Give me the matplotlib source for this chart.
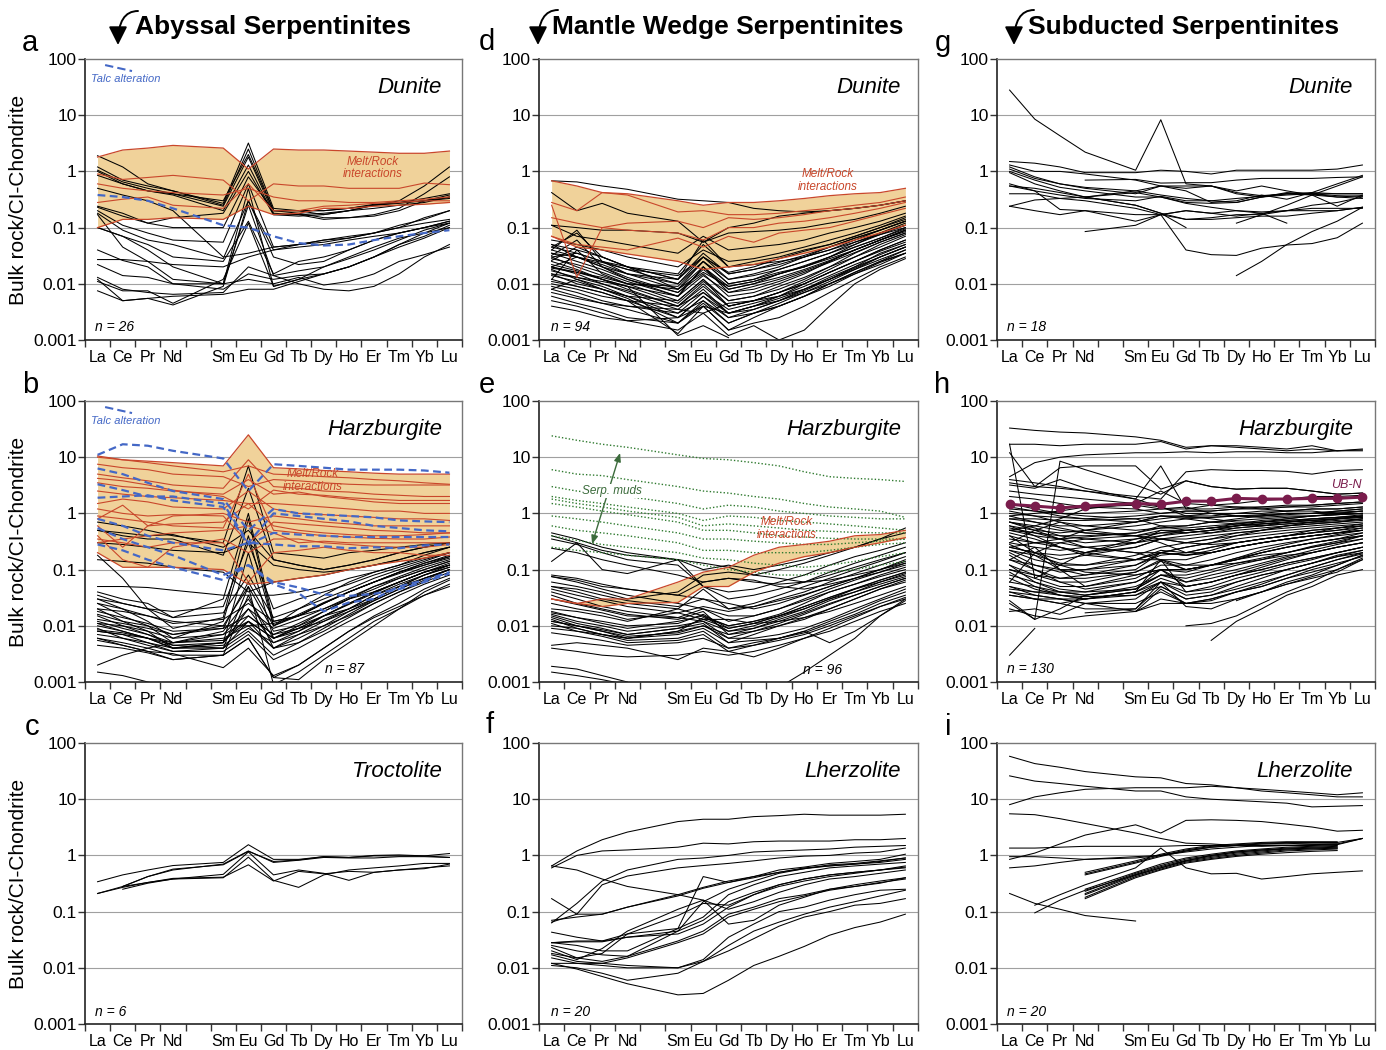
import numpy as np
import matplotlib
matplotlib.use("Agg")
import matplotlib.pyplot as plt
from matplotlib.patches import FancyArrowPatch
from matplotlib.ticker import NullLocator

plt.rcParams['font.family'] = ['Liberation Sans', 'DejaVu Sans']

NA = np.nan

# ───────────────────────── REE order (Pm slot left empty) ─────────────────────────
ree = ['La', 'Ce', 'Pr', 'Nd', 'Sm', 'Eu', 'Gd', 'Tb', 'Dy', 'Ho', 'Er', 'Tm', 'Yb', 'Lu']
ree_x = [0, 1, 2, 3, 5, 6, 7, 8, 9, 10, 11, 12, 13, 14]

# ───────────────────────── a: abyssal dunite ─────────────────────────
a_band_top = [1.8, 2.4, 2.6, 2.9, 2.6, 1.1, 2.5, 2.4, 2.4, 2.3, 2.2, 2.1, 2.1, 2.3]
a_band_bot = [0.1, 0.14, 0.14, 0.15, 0.14, 0.24, 0.17, 0.18, 0.22, 0.22, 0.24, 0.25, 0.26, 0.28]
a_red = [
    [0.9, 0.72, 0.78, 0.85, 0.7, 0.3, 0.6, 0.55, 0.55, 0.5, 0.5, 0.5, 0.62, 0.58],
    [0.6, 0.5, 0.45, 0.42, 0.38, 0.5, 0.35, 0.3, 0.3, 0.28, 0.28, 0.3, 0.32, 0.35],
    [0.28, 0.32, 0.35, 0.25, 0.22, 0.6, 0.2, 0.2, 0.24, 0.25, 0.27, 0.28, 0.3, 0.3],
]
a_blue = [[0.38, 0.35, 0.3, 0.22, 0.11, 0.1, 0.07, 0.053, 0.048, 0.05, 0.06, 0.07, 0.08, 0.09]]
a_black = [
    [1.9, 1.2, 0.6, 0.45, 0.27, 3.2, 0.22, 0.2, 0.17, 0.2, 0.25, 0.3, 0.55, 1.2],
    [1.2, 0.7, 0.55, 0.45, 0.25, 2.5, 0.2, 0.18, 0.15, 0.15, 0.17, 0.22, 0.4, 0.8],
    [1.05, 0.65, 0.5, 0.4, 0.24, 1.8, 0.18, 0.17, 0.18, 0.2, 0.25, 0.28, 0.33, 0.4],
    [0.85, 0.6, 0.45, 0.38, 0.2, 1.3, 0.17, 0.17, 0.14, 0.15, 0.16, 0.2, 0.3, 0.38],
    [1.0, 0.6, 0.45, 0.4, 0.3, 2.0, 0.2, 0.2, 0.2, 0.22, 0.26, 0.28, 0.3, 0.35],
    [0.24, 0.18, 0.12, 0.15, 0.18, 1.0, 0.17, 0.16, 0.17, 0.2, 0.22, 0.25, 0.28, 0.35],
    [0.23, 0.16, 0.12, 0.1, 0.1, 0.8, 0.2, 0.2, 0.2, 0.22, 0.25, 0.27, 0.3, 0.33],
    [0.2, 0.11, 0.08, 0.06, 0.055, 0.6, 0.045, 0.05, 0.06, 0.065, 0.08, 0.1, 0.15, 0.2],
    [0.18, 0.09, 0.06, 0.05, 0.028, 0.3, 0.04, 0.05, 0.055, 0.065, 0.08, 0.11, 0.14, 0.2],
    [0.1, 0.07, 0.05, 0.03, 0.025, 0.13, 0.015, 0.025, 0.03, 0.04, 0.06, 0.08, 0.1, 0.13],
    [0.17, 0.045, 0.025, 0.012, 0.01, 0.25, 0.014, 0.017, 0.02, 0.028, 0.04, 0.06, 0.09, 0.12],
    [0.1, 0.07, 0.04, 0.02, 0.01, 0.5, 0.009, 0.012, 0.02, 0.03, 0.045, 0.065, 0.08, 0.1],
    [0.5, 0.38, 0.3, 0.2, 0.03, 0.035, 0.045, 0.05, 0.06, 0.07, 0.08, 0.1, 0.12, 0.14],
    [0.04, 0.026, 0.02, 0.01, 0.008, 0.015, 0.012, 0.014, 0.015, 0.02, 0.03, 0.05, 0.08, 0.12],
    [0.027, 0.027, 0.025, 0.022, 0.02, 0.03, 0.04, 0.045, 0.05, 0.06, 0.07, 0.08, 0.1, 0.12],
    [0.022, 0.014, 0.013, 0.01, 0.01, 0.012, 0.01, 0.013, 0.0095, 0.011, 0.015, 0.025, 0.033, 0.045],
    [0.013, 0.008, 0.007, 0.0065, 0.007, 0.02, 0.014, 0.01, 0.008, 0.0075, 0.009, 0.015, 0.03, 0.05],
    [0.011, 0.0075, 0.0075, 0.0045, 0.012, 0.12, 0.009, 0.012, 0.015, 0.02, 0.03, 0.045, 0.065, 0.1],
    [0.0075, 0.005, 0.0055, 0.006, 0.0065, 0.008, 0.008, 0.011, 0.015, 0.02, 0.03, 0.05, 0.07, 0.11],
    [0.012, 0.005, 0.0055, 0.0042, 0.009, 0.3, 0.03, 0.022, 0.025, 0.04, 0.06, 0.08, 0.1, 0.13],
]

# ───────────────────────── b: abyssal harzburgite ─────────────────────────
b_band_top = [10.5, 9.0, 8.5, 8.0, 7.0, 25.0, 6.5, 6.2, 5.8, 5.5, 5.2, 5.0, 5.0, 5.0]
b_band_bot = [0.2, 0.11, 0.11, 0.11, 0.1, 0.055, 0.06, 0.07, 0.08, 0.1, 0.12, 0.14, 0.16, 0.2]
b_red = [
    [10.0, 9.0, 8.0, 7.0, 5.5, 7.0, 5.0, 4.8, 4.5, 4.3, 4.0, 3.8, 3.5, 3.3],
    [7.5, 6.5, 6.0, 5.0, 4.5, 3.0, 4.0, 3.8, 3.5, 3.3, 3.2, 3.2, 3.2, 3.2],
    [5.0, 4.3, 3.8, 3.2, 2.8, 9.0, 3.0, 2.8, 2.5, 2.4, 2.2, 2.1, 2.0, 2.0],
    [3.5, 3.0, 2.8, 2.5, 2.2, 4.0, 2.2, 2.4, 2.0, 1.8, 1.6, 1.5, 1.5, 1.5],
    [2.5, 2.2, 2.0, 1.9, 1.7, 1.5, 1.5, 1.4, 1.3, 1.2, 1.1, 1.1, 1.0, 1.0],
    [1.5, 1.8, 1.6, 1.3, 1.2, 2.5, 1.2, 1.0, 0.95, 0.9, 0.85, 0.8, 0.8, 0.75],
    [1.2, 1.0, 0.9, 0.95, 0.9, 0.3, 0.7, 0.65, 0.6, 0.55, 0.5, 0.48, 0.45, 0.45],
    [0.8, 1.4, 0.6, 0.9, 1.0, 0.7, 0.9, 0.8, 0.7, 0.65, 0.6, 0.6, 0.6, 0.6],
    [0.6, 0.25, 0.6, 0.65, 0.7, 1.5, 0.6, 0.5, 0.45, 0.42, 0.4, 0.4, 0.42, 0.45],
    [0.4, 0.15, 0.11, 0.25, 0.35, 0.2, 0.35, 0.35, 0.3, 0.28, 0.26, 0.25, 0.25, 0.28],
    [0.35, 0.3, 0.25, 0.3, 0.3, 0.06, 0.2, 0.22, 0.25, 0.22, 0.2, 0.2, 0.18, 0.18],
    [0.3, 0.35, 0.4, 0.45, 0.5, 0.6, 0.45, 0.3, 0.32, 0.3, 0.3, 0.3, 0.3, 0.3],
    [4.2, 3.8, 3.2, 2.6, 2.0, 1.2, 2.6, 2.2, 2.1, 1.9, 1.8, 1.7, 1.7, 1.7],
    [0.9, 0.8, 0.7, 0.6, 0.55, 5.0, 0.5, 0.45, 0.4, 0.38, 0.36, 0.35, 0.35, 0.38],
]
b_blue = [
    [11.0, 17.0, 16.0, 13.0, 9.5, 2.5, 7.5, 7.0, 6.5, 6.0, 6.0, 6.0, 5.8, 5.3],
    [6.3, 5.0, 3.5, 2.5, 1.8, 0.5, 1.2, 1.0, 0.95, 0.9, 0.85, 0.75, 0.72, 0.7],
    [3.3, 2.6, 2.0, 2.0, 1.5, 0.3, 1.0, 0.9, 0.8, 0.72, 0.6, 0.55, 0.5, 0.48],
    [1.9, 2.0, 2.1, 1.7, 1.3, 0.28, 0.45, 0.42, 0.4, 0.38, 0.38, 0.38, 0.38, 0.38],
    [0.8, 0.6, 0.4, 0.3, 0.22, 0.3, 0.28, 0.26, 0.26, 0.24, 0.25, 0.24, 0.27, 0.28],
    [0.55, 0.35, 0.25, 0.18, 0.08, 0.12, 0.06, 0.048, 0.036, 0.034, 0.037, 0.045, 0.06, 0.085],
    [0.28, 0.22, 0.15, 0.11, 0.065, 0.12, 0.055, 0.038, 0.018, 0.026, 0.03, 0.05, 0.065, 0.09],
]
b_black = [
    [0.7, 0.6, 0.5, 0.4, 0.3, 7.0, 0.2, 0.18, 0.16, 0.2, 0.22, 0.25, 0.28, 0.3],
    [0.5, 0.4, 0.35, 0.35, 0.18, 2.8, 0.15, 0.12, 0.1, 0.12, 0.15, 0.2, 0.25, 0.3],
    [0.5, 0.45, 0.4, 0.42, 0.25, 0.5, 0.15, 0.12, 0.1, 0.12, 0.15, 0.2, 0.25, 0.3],
    [0.3, 0.28, 0.25, 0.22, 0.2, 0.3, 0.12, 0.1, 0.09, 0.1, 0.12, 0.15, 0.2, 0.25],
    [0.15, 0.14, 0.13, 0.11, 0.09, 0.04, 0.06, 0.07, 0.08, 0.1, 0.12, 0.15, 0.2, 0.25],
    [0.18, 0.07, 0.02, 0.009, 0.014, 0.8, 0.01, 0.02, 0.035, 0.06, 0.09, 0.12, 0.18, 0.25],
    [0.05, 0.05, 0.048, 0.043, 0.035, 0.035, 0.035, 0.04, 0.05, 0.07, 0.09, 0.12, 0.16, 0.2],
    [0.035, 0.025, 0.02, 0.014, 0.03, 1.0, 0.012, 0.015, 0.025, 0.04, 0.06, 0.09, 0.13, 0.18],
    [0.03, 0.02, 0.012, 0.006, 0.012, 0.4, 0.01, 0.015, 0.025, 0.04, 0.06, 0.09, 0.13, 0.17],
    [0.025, 0.015, 0.01, 0.005, 0.008, 0.03, 0.006, 0.01, 0.018, 0.03, 0.05, 0.07, 0.1, 0.14],
    [0.02, 0.012, 0.008, 0.004, 0.005, 0.02, 0.005, 0.008, 0.015, 0.025, 0.04, 0.06, 0.09, 0.12],
    [0.015, 0.01, 0.007, 0.0045, 0.004, 0.012, 0.004, 0.006, 0.01, 0.018, 0.03, 0.05, 0.08, 0.11],
    [0.012, 0.009, 0.007, 0.005, 0.006, 0.01, 0.004, 0.005, 0.008, 0.014, 0.025, 0.04, 0.065, 0.1],
    [0.01, 0.008, 0.006, 0.004, 0.004, 0.008, 0.003, 0.005, 0.009, 0.016, 0.028, 0.045, 0.07, 0.1],
    [0.009, 0.006, 0.0045, 0.0035, 0.0035, 0.007, 0.0025, 0.004, 0.007, 0.012, 0.02, 0.035, 0.055, 0.08],
    [0.006, 0.005, 0.004, 0.003, 0.003, 0.006, 0.0012, 0.0011, 0.0025, 0.005, 0.01, 0.02, 0.04, 0.065],
    [0.0055, 0.0045, 0.0035, 0.0032, 0.0018, 0.004, 0.0013, 0.002, 0.004, 0.008, 0.015, 0.025, 0.045, 0.07],
    [0.0015, 0.0013, 0.001, 0.0008, NA, NA, NA, NA, NA, NA, NA, NA, NA, NA],
    [0.002, 0.003, 0.004, 0.005, 0.007, 0.012, 0.006, 0.009, 0.015, 0.025, 0.04, 0.06, 0.09, 0.12],
    [0.016, 0.012, 0.01, 0.007, 0.01, 0.05, 0.008, 0.01, 0.015, 0.02, 0.03, 0.05, 0.07, 0.1],
    [0.04, 0.03, 0.025, 0.014, 0.017, 0.08, 0.014, 0.02, 0.03, 0.045, 0.07, 0.1, 0.14, 0.2],
    [0.011, 0.008, 0.006, 0.004, 0.005, 0.2, 0.006, 0.008, 0.013, 0.02, 0.035, 0.055, 0.08, 0.12],
    [0.008, 0.007, 0.005, 0.0035, 0.004, 0.05, 0.0009, 0.0015, 0.003, 0.006, 0.012, 0.02, 0.035, 0.055],
    [0.0045, 0.004, 0.0033, 0.0025, 0.003, 0.035, 0.004, 0.007, 0.012, 0.02, 0.035, 0.05, 0.08, 0.11],
    [0.013, 0.011, 0.009, 0.007, 0.009, 0.015, 0.007, 0.009, 0.012, 0.018, 0.028, 0.045, 0.07, 0.1],
    [0.02, 0.018, 0.015, 0.011, 0.013, 0.025, 0.012, 0.015, 0.02, 0.03, 0.04, 0.06, 0.09, 0.12],
    [0.007, 0.006, 0.005, 0.004, 0.0045, 0.009, 0.005, 0.007, 0.01, 0.015, 0.025, 0.04, 0.06, 0.09],
    [0.03, 0.025, 0.02, 0.018, 0.022, 0.3, 0.02, 0.03, 0.04, 0.055, 0.08, 0.11, 0.15, 0.2],
    [0.006, 0.0045, 0.0035, 0.0025, 0.003, 0.006, 0.0012, 0.002, 0.004, 0.008, 0.014, 0.022, 0.035, 0.05],
    [0.025, 0.02, 0.015, 0.012, 0.01, 0.01, 0.011, 0.015, 0.025, 0.04, 0.06, 0.09, 0.12, 0.16],
    [0.011, 0.01, 0.008, 0.006, 0.007, 0.02, 0.009, 0.013, 0.02, 0.032, 0.05, 0.075, 0.11, 0.15],
    [0.008, 0.007, 0.006, 0.0045, 0.005, 0.015, 0.007, 0.011, 0.018, 0.03, 0.045, 0.07, 0.1, 0.14],
    [0.018, 0.014, 0.011, 0.008, 0.009, 0.06, 0.01, 0.016, 0.026, 0.04, 0.06, 0.085, 0.12, 0.17],
    [0.0085, 0.0075, 0.006, 0.005, 0.0055, 0.012, 0.006, 0.009, 0.015, 0.024, 0.038, 0.06, 0.09, 0.13],
]

# ───────────────────────── c: abyssal troctolite ─────────────────────────
c_black = [
    [0.34, 0.45, 0.55, 0.66, 0.75, 1.55, 0.85, 0.85, 0.95, 0.92, 1.0, 1.02, 0.98, 1.08],
    [0.21, 0.28, 0.42, 0.55, 0.7, 1.2, 0.75, 0.82, 0.92, 0.9, 0.9, 0.95, 0.95, 0.92],
    [0.21, 0.27, 0.33, 0.38, 0.46, 1.15, 0.45, 0.55, 0.48, 0.36, 0.5, 0.55, 0.6, 0.65],
    [NA, 0.25, 0.32, 0.38, 0.4, 0.93, 0.36, 0.27, 0.45, 0.55, 0.6, 0.65, 0.72, 0.72],
    [NA, 0.28, 0.42, 0.57, 0.68, 1.18, 0.78, 0.83, 0.95, 0.92, 0.98, 0.98, 0.98, 0.92],
    [NA, 0.28, 0.33, 0.39, 0.41, 0.68, 0.35, 0.52, 0.47, 0.52, 0.5, 0.55, 0.58, 0.7],
]

# ───────────────────────── d: mantle wedge dunite ─────────────────────────
d_band_top = [0.68, 0.55, 0.42, 0.4, 0.3, 0.25, 0.28, 0.28, 0.3, 0.33, 0.37, 0.4, 0.42, 0.5]
d_band_bot = [0.07, 0.045, 0.04, 0.034, 0.025, 0.018, 0.02, 0.022, 0.028, 0.035, 0.045, 0.06, 0.08, 0.11]
d_red = [
    [0.28, 0.2, 0.42, 0.38, 0.19, 0.2, 0.17, 0.17, 0.18, 0.2, 0.22, 0.25, 0.28, 0.35],
    [0.25, 0.013, 0.1, 0.12, 0.13, 0.1, 0.15, 0.14, 0.15, 0.17, 0.2, 0.22, 0.25, 0.3],
    [0.15, 0.12, 0.1, 0.09, 0.08, 0.06, 0.1, 0.1, 0.12, 0.13, 0.15, 0.18, 0.22, 0.28],
    [0.07, 0.05, 0.045, 0.04, 0.065, 0.045, 0.07, 0.055, 0.08, 0.09, 0.1, 0.13, 0.17, 0.22],
]
d_black = [
    [0.68, 0.65, 0.55, 0.48, 0.32, 0.3, 0.28, 0.22, 0.2, 0.19, 0.2, 0.22, 0.25, 0.3],
    [0.42, 0.2, 0.27, 0.18, 0.13, 0.055, 0.1, 0.12, 0.16, 0.18, 0.2, 0.22, 0.25, 0.3],
    [0.11, 0.1, 0.09, 0.09, 0.08, 0.055, 0.08, 0.085, 0.09, 0.1, 0.12, 0.14, 0.18, 0.24],
    [0.11, 0.07, 0.06, 0.05, 0.035, 0.07, 0.04, 0.045, 0.05, 0.06, 0.08, 0.1, 0.13, 0.18],
    [0.06, 0.05, 0.04, 0.03, 0.02, 0.04, 0.025, 0.028, 0.035, 0.045, 0.06, 0.08, 0.11, 0.16],
    [0.05, 0.03, 0.02, 0.012, 0.006, 0.02, 0.008, 0.01, 0.015, 0.02, 0.03, 0.05, 0.08, 0.12],
    [0.045, 0.08, 0.03, 0.02, 0.008, 0.025, 0.01, 0.012, 0.018, 0.025, 0.035, 0.055, 0.08, 0.11],
    [0.04, 0.09, 0.025, 0.015, 0.01, 0.03, 0.012, 0.015, 0.02, 0.03, 0.045, 0.065, 0.09, 0.13],
    [0.035, 0.025, 0.018, 0.012, 0.007, 0.015, 0.006, 0.007, 0.01, 0.015, 0.025, 0.04, 0.06, 0.09],
    [0.03, 0.02, 0.014, 0.01, 0.005, 0.012, 0.005, 0.006, 0.008, 0.012, 0.02, 0.035, 0.055, 0.08],
    [0.025, 0.018, 0.012, 0.008, 0.004, 0.01, 0.004, 0.005, 0.007, 0.011, 0.018, 0.03, 0.05, 0.075],
    [0.02, 0.015, 0.01, 0.007, 0.0035, 0.008, 0.003, 0.004, 0.006, 0.01, 0.016, 0.025, 0.04, 0.06],
    [0.018, 0.012, 0.009, 0.006, 0.0025, 0.006, 0.0025, 0.0035, 0.005, 0.008, 0.013, 0.02, 0.035, 0.05],
    [0.015, 0.01, 0.008, 0.0055, 0.002, 0.005, 0.002, 0.003, 0.0045, 0.007, 0.011, 0.018, 0.03, 0.045],
    [0.012, 0.009, 0.007, 0.005, 0.0013, 0.004, 0.0015, 0.0025, 0.004, 0.006, 0.01, 0.016, 0.025, 0.04],
    [0.01, 0.008, 0.006, 0.005, 0.004, 0.007, 0.003, 0.0035, 0.005, 0.0075, 0.012, 0.02, 0.03, 0.045],
    [0.008, 0.006, 0.0045, 0.004, 0.003, 0.005, 0.0025, 0.003, 0.004, 0.006, 0.01, 0.016, 0.025, 0.035],
    [0.006, 0.0045, 0.0035, 0.0025, 0.002, 0.004, 0.0015, 0.002, 0.0025, 0.004, 0.007, 0.012, 0.02, 0.03],
    [0.005, 0.004, 0.003, 0.0022, 0.0015, 0.003, 0.0012, 0.0018, 0.001, 0.0015, 0.004, 0.01, 0.018, 0.028],
    [0.004, 0.0033, 0.0025, 0.0022, 0.0025, 0.004, 0.003, 0.004, 0.005, 0.007, 0.01, 0.015, 0.022, 0.035],
    [0.012, 0.04, 0.015, 0.01, 0.009, 0.025, 0.01, 0.012, 0.016, 0.02, 0.028, 0.04, 0.06, 0.09],
    [0.02, 0.03, 0.02, 0.015, 0.012, 0.06, 0.02, 0.025, 0.03, 0.04, 0.05, 0.07, 0.1, 0.14],
    [0.03, 0.035, 0.025, 0.02, 0.015, 0.05, 0.02, 0.022, 0.025, 0.03, 0.04, 0.055, 0.075, 0.1],
    [0.008, 0.012, 0.008, 0.006, 0.005, 0.012, 0.004, 0.005, 0.007, 0.01, 0.016, 0.025, 0.04, 0.06],
    [0.015, 0.013, 0.011, 0.009, 0.006, 0.02, 0.007, 0.009, 0.012, 0.017, 0.025, 0.04, 0.06, 0.085],
    [0.009, 0.007, 0.005, 0.004, 0.0035, 0.003, 0.0045, 0.005, 0.006, 0.008, 0.012, 0.018, 0.027, 0.04],
    [0.05, 0.04, 0.03, 0.02, 0.012, 0.03, 0.015, 0.018, 0.022, 0.03, 0.04, 0.06, 0.09, 0.13],
    [0.02, 0.016, 0.012, 0.009, 0.0012, 0.0018, 0.0011, NA, NA, NA, NA, NA, NA, NA],
    [0.045, 0.035, 0.025, 0.018, 0.01, 0.025, 0.012, 0.014, 0.018, 0.025, 0.035, 0.05, 0.075, 0.11],
    [0.04, 0.03, 0.022, 0.015, 0.008, 0.02, 0.009, 0.011, 0.015, 0.02, 0.03, 0.045, 0.065, 0.1],
    [0.032, 0.06, 0.02, 0.013, 0.007, 0.018, 0.008, 0.01, 0.013, 0.018, 0.026, 0.04, 0.06, 0.09],
    [0.028, 0.022, 0.016, 0.011, 0.006, 0.014, 0.007, 0.008, 0.011, 0.016, 0.024, 0.036, 0.055, 0.08],
    [0.022, 0.017, 0.012, 0.009, 0.0045, 0.011, 0.005, 0.006, 0.009, 0.013, 0.02, 0.03, 0.045, 0.07],
    [0.017, 0.013, 0.01, 0.0075, 0.004, 0.009, 0.004, 0.005, 0.007, 0.01, 0.016, 0.025, 0.038, 0.055],
    [0.014, 0.011, 0.008, 0.006, 0.003, 0.007, 0.0035, 0.0045, 0.006, 0.009, 0.014, 0.022, 0.033, 0.05],
    [0.011, 0.009, 0.007, 0.005, 0.0025, 0.006, 0.003, 0.004, 0.0055, 0.008, 0.012, 0.019, 0.03, 0.045],
    [0.007, 0.0055, 0.0045, 0.0035, 0.002, 0.0045, 0.002, 0.003, 0.004, 0.006, 0.009, 0.015, 0.024, 0.035],
    [0.026, 0.045, 0.03, 0.02, 0.012, 0.035, 0.015, 0.018, 0.024, 0.032, 0.045, 0.065, 0.09, 0.13],
    [0.035, 0.03, 0.024, 0.018, 0.014, 0.03, 0.016, 0.02, 0.028, 0.038, 0.05, 0.07, 0.1, 0.15],
    [0.019, 0.016, 0.013, 0.01, 0.008, 0.016, 0.009, 0.011, 0.015, 0.021, 0.03, 0.045, 0.065, 0.095],
]

# ───────────────────────── e: mantle wedge harzburgite ─────────────────────────
e_band_top = [0.03, 0.025, 0.03, 0.03, 0.06, 0.09, 0.11, 0.18, 0.25, 0.28, 0.32, 0.4, 0.42, 0.5]
e_band_bot = [0.03, 0.025, 0.022, 0.025, 0.026, 0.05, 0.05, 0.09, 0.13, 0.17, 0.2, 0.25, 0.3, 0.37]
e_muds = [
    [24.0, 20.0, 17.0, 15.0, 11.0, 9.5, 9.0, 8.0, 7.0, 5.5, 4.5, 4.2, 4.0, 3.7],
    [6.0, 5.0, 4.7, 4.0, 3.0, 2.5, 2.3, 2.0, 1.8, 1.5, 1.3, 1.2, 1.1, 0.85],
    [3.0, 2.5, 2.2, 2.0, 1.5, 1.2, 1.4, 1.3, 1.1, 1.0, 0.9, 0.85, 0.8, 0.8],
    [2.0, 1.7, 1.5, 1.3, 1.0, 0.75, 0.9, 0.85, 0.75, 0.7, 0.65, 0.6, 0.55, 0.5],
    [1.8, 1.5, 1.3, 1.1, 0.85, 0.6, 0.65, 0.6, 0.55, 0.5, 0.48, 0.46, 0.45, 0.45],
    [1.5, 1.3, 1.1, 0.95, 0.7, 0.5, 0.5, 0.45, 0.4, 0.38, 0.36, 0.35, 0.35, 0.35],
    [0.9, 0.8, 0.7, 0.6, 0.45, 0.35, 0.35, 0.32, 0.3, 0.28, 0.28, 0.3, 0.32, 0.35],
    [0.6, 0.5, 0.45, 0.4, 0.3, 0.22, 0.22, 0.2, 0.2, 0.2, 0.22, 0.25, 0.28, 0.3],
    [0.4, 0.33, 0.28, 0.25, 0.2, 0.16, 0.15, 0.13, 0.12, 0.11, 0.12, 0.14, 0.17, 0.2],
    [0.25, 0.22, 0.2, 0.18, 0.15, 0.12, 0.1, 0.09, 0.08, 0.08, 0.09, 0.1, 0.12, 0.14],
]
e_black = [
    [0.45, 0.35, 0.25, 0.2, 0.15, 0.1, 0.12, 0.1, 0.12, 0.15, 0.2, 0.25, 0.35, 0.55],
    [0.4, 0.3, 0.22, 0.18, 0.15, 0.13, 0.11, 0.08, 0.1, 0.13, 0.18, 0.25, 0.35, 0.45],
    [0.14, 0.3, 0.1, 0.085, 0.15, 0.05, 0.04, 0.045, 0.06, 0.08, 0.12, 0.17, 0.22, 0.3],
    [0.35, 0.28, 0.2, 0.15, 0.12, 0.05, 0.03, 0.035, 0.045, 0.06, 0.09, 0.13, 0.18, 0.25],
    [0.24, 0.2, 0.15, 0.12, 0.08, 0.06, 0.07, 0.06, 0.055, 0.06, 0.08, 0.11, 0.15, 0.2],
    [0.08, 0.07, 0.055, 0.045, 0.035, 0.03, 0.025, 0.02, 0.025, 0.035, 0.05, 0.07, 0.1, 0.15],
    [0.075, 0.06, 0.045, 0.035, 0.025, 0.02, 0.015, 0.015, 0.02, 0.03, 0.045, 0.065, 0.09, 0.13],
    [0.05, 0.04, 0.03, 0.025, 0.02, 0.015, 0.01, 0.012, 0.016, 0.025, 0.04, 0.055, 0.08, 0.11],
    [0.045, 0.035, 0.028, 0.022, 0.017, 0.013, 0.009, 0.011, 0.015, 0.022, 0.032, 0.045, 0.065, 0.09],
    [0.04, 0.03, 0.022, 0.018, 0.014, 0.012, 0.008, 0.009, 0.012, 0.017, 0.025, 0.035, 0.05, 0.07],
    [0.035, 0.025, 0.02, 0.016, 0.013, 0.018, 0.007, 0.008, 0.01, 0.013, 0.02, 0.03, 0.045, 0.065],
    [0.018, 0.014, 0.011, 0.009, 0.012, 0.015, 0.008, 0.01, 0.014, 0.02, 0.03, 0.04, 0.06, 0.085],
    [0.016, 0.012, 0.01, 0.008, 0.01, 0.012, 0.006, 0.008, 0.011, 0.016, 0.024, 0.035, 0.05, 0.07],
    [0.015, 0.011, 0.009, 0.007, 0.009, 0.011, 0.005, 0.007, 0.01, 0.014, 0.02, 0.03, 0.045, 0.06],
    [0.014, 0.01, 0.008, 0.006, 0.008, 0.01, 0.007, 0.009, 0.013, 0.018, 0.028, 0.04, 0.055, 0.075],
    [0.013, 0.009, 0.007, 0.006, 0.008, 0.014, 0.01, 0.012, 0.015, 0.02, 0.03, 0.045, 0.06, 0.08],
    [0.012, 0.01, 0.008, 0.0065, 0.0075, 0.01, 0.006, 0.006, 0.007, 0.009, 0.013, 0.02, 0.03, 0.045],
    [0.011, 0.008, 0.007, 0.006, 0.007, 0.009, 0.005, 0.0055, 0.006, 0.008, 0.012, 0.018, 0.028, 0.04],
    [0.01, 0.009, 0.007, 0.0055, 0.006, 0.008, 0.004, 0.005, 0.006, 0.0075, 0.011, 0.016, 0.025, 0.035],
    [0.009, 0.008, 0.0065, 0.005, 0.0055, 0.007, 0.0035, 0.0028, 0.004, 0.006, 0.009, 0.014, 0.022, 0.032],
    [0.0075, 0.0065, 0.0055, 0.0045, 0.005, 0.006, 0.004, 0.0045, 0.0055, 0.007, 0.01, 0.015, 0.022, 0.03],
    [0.0045, 0.005, 0.0045, 0.004, 0.0025, 0.004, 0.0035, 0.0045, 0.006, 0.008, 0.005, 0.008, 0.015, 0.028],
    [0.004, 0.0035, 0.003, 0.0028, 0.003, 0.0035, 0.003, 0.0035, 0.0045, 0.006, 0.008, 0.012, 0.018, 0.025],
    [0.0019, 0.0017, 0.0013, 0.001, NA, NA, NA, NA, NA, NA, NA, NA, NA, NA],
    [0.0015, 0.0013, 0.0011, 0.0009, NA, NA, NA, NA, NA, NA, NA, NA, NA, NA],
    [NA, NA, NA, NA, NA, NA, NA, NA, 0.0008, 0.0015, 0.003, 0.006, 0.015, 0.03],
    [0.075, 0.065, 0.05, 0.045, 0.035, 0.06, 0.07, 0.065, 0.05, 0.045, 0.055, 0.07, 0.09, 0.12],
    [0.02, 0.018, 0.015, 0.012, 0.02, 0.045, 0.02, 0.025, 0.035, 0.05, 0.07, 0.1, 0.14, 0.2],
    [0.025, 0.02, 0.017, 0.013, 0.017, 0.022, 0.018, 0.022, 0.03, 0.04, 0.06, 0.085, 0.12, 0.17],
    [0.06, 0.05, 0.04, 0.03, 0.04, 0.08, 0.09, 0.08, 0.07, 0.06, 0.065, 0.08, 0.1, 0.13],
    [0.012, 0.01, 0.0085, 0.007, 0.009, 0.013, 0.013, 0.011, 0.012, 0.014, 0.018, 0.025, 0.035, 0.05],
    [0.05, 0.045, 0.035, 0.028, 0.022, 0.03, 0.02, 0.022, 0.028, 0.036, 0.05, 0.07, 0.1, 0.14],
    [0.03, 0.024, 0.019, 0.015, 0.014, 0.02, 0.012, 0.015, 0.02, 0.028, 0.04, 0.055, 0.075, 0.1],
    [0.017, 0.014, 0.012, 0.01, 0.011, 0.016, 0.009, 0.011, 0.015, 0.022, 0.032, 0.046, 0.065, 0.09],
]

# ───────────────────────── f: mantle wedge lherzolite ─────────────────────────
f_black = [
    [0.65, 1.2, 1.9, 2.6, 4.0, 4.4, 4.4, 4.9, 5.1, 5.4, 5.2, 5.2, 5.2, 5.4],
    [0.6, 1.0, 1.2, 1.25, 1.4, 1.65, 1.6, 1.75, 1.8, 1.8, 1.8, 1.9, 1.9, 2.0],
    [0.063, 0.14, 0.35, 0.55, 0.85, 0.9, 1.0, 1.15, 1.2, 1.25, 1.3, 1.4, 1.45, 1.5],
    [0.065, 0.09, 0.3, 0.43, 0.6, 0.66, 0.72, 0.8, 0.9, 0.97, 1.0, 1.1, 1.15, 1.35],
    [0.65, 0.55, 0.38, 0.28, 0.2, 0.16, 0.06, 0.07, 0.13, 0.18, 0.25, 0.3, 0.35, 0.4],
    [0.17, 0.09, 0.09, 0.12, 0.19, 0.26, 0.33, 0.42, 0.55, 0.62, 0.72, 0.78, 0.85, 1.05],
    [0.043, 0.035, 0.03, 0.035, 0.045, 0.15, 0.25, 0.35, 0.48, 0.58, 0.68, 0.72, 0.8, 0.9],
    [0.028, 0.03, 0.03, 0.04, 0.05, 0.42, 0.33, 0.4, 0.5, 0.6, 0.65, 0.7, 0.75, 0.85],
    [0.028, 0.025, 0.02, 0.02, 0.05, 0.08, 0.2, 0.3, 0.42, 0.5, 0.6, 0.65, 0.7, 0.75],
    [0.025, 0.02, 0.017, 0.016, 0.045, 0.07, 0.15, 0.22, 0.3, 0.38, 0.45, 0.5, 0.55, 0.65],
    [0.023, 0.015, 0.018, 0.04, 0.085, 0.14, 0.13, 0.2, 0.28, 0.35, 0.42, 0.48, 0.55, 0.6],
    [0.02, 0.014, 0.022, 0.045, 0.11, 0.16, 0.11, 0.15, 0.22, 0.3, 0.38, 0.42, 0.48, 0.55],
    [0.018, 0.015, 0.013, 0.016, 0.03, 0.045, 0.09, 0.12, 0.17, 0.2, 0.25, 0.28, 0.32, 0.4],
    [0.017, 0.013, 0.012, 0.015, 0.028, 0.04, 0.08, 0.11, 0.15, 0.19, 0.24, 0.28, 0.33, 0.38],
    [0.015, 0.012, 0.012, 0.011, 0.01, 0.014, 0.035, 0.06, 0.1, 0.12, 0.16, 0.2, 0.24, 0.25],
    [0.012, 0.012, 0.011, 0.01, 0.01, 0.013, 0.025, 0.045, 0.065, 0.09, 0.12, 0.15, 0.19, 0.24],
    [0.012, 0.0095, 0.007, 0.0052, 0.0033, 0.0035, 0.006, 0.011, 0.016, 0.024, 0.038, 0.052, 0.065, 0.09],
    [0.011, 0.01, 0.008, 0.006, 0.008, 0.013, 0.02, 0.033, 0.055, 0.08, 0.1, 0.13, 0.14, 0.17],
    [0.07, 0.08, 0.09, 0.12, 0.2, 0.27, 0.35, 0.42, 0.5, 0.58, 0.65, 0.7, 0.78, 0.9],
    [0.028, 0.029, 0.029, 0.035, 0.04, 0.06, 0.12, 0.2, 0.3, 0.38, 0.45, 0.5, 0.55, 0.62],
]

# ───────────────────────── g: subducted dunite ─────────────────────────
g_black = [
    [28.0, 8.5, 4.3, 2.2, 1.05, 8.3, 0.6, 0.55, 0.42, 0.37, 0.4, 0.4, 0.4, 0.4],
    [1.5, 1.4, 1.2, 0.95, 0.95, 1.05, 1.0, 0.9, 1.05, 1.05, 1.05, 1.05, 1.1, 1.3],
    [1.3, 1.0, 1.0, 0.9, 0.7, 0.55, 0.55, 0.55, 0.4, 0.35, 0.42, 0.4, 0.35, 0.37],
    [1.2, 0.8, 0.6, 0.5, 0.4, 0.55, 0.5, 0.55, 0.45, 0.55, 0.45, 0.38, 0.24, 0.38],
    [1.0, 0.7, 0.52, 0.45, 0.35, 0.35, 0.27, 0.23, 0.2, 0.19, 0.2, 0.2, 0.2, 0.23],
    [0.95, 0.6, 0.45, 0.35, 0.25, 0.18, 0.14, 0.14, 0.15, 0.16, 0.16, 0.18, 0.2, 0.23],
    [0.55, 0.45, 0.21, 0.2, 0.17, 0.17, 0.2, 0.18, 0.16, 0.18, 0.2, 0.25, 0.28, 0.35],
    [0.4, 0.4, 0.33, 0.3, 0.22, 0.17, 0.04, 0.033, 0.032, 0.043, 0.049, 0.052, 0.066, 0.12],
    [0.24, 0.31, 0.33, 0.35, 0.45, 0.55, 0.45, 0.28, 0.3, 0.38, 0.32, 0.42, 0.6, 0.85],
    [0.24, 0.2, 0.17, 0.2, 0.13, 0.17, 0.14, 0.15, 0.17, 0.17, 0.2, 0.22, 0.22, 0.22],
    [NA, NA, NA, 0.085, 0.11, 0.17, 0.2, 0.18, 0.2, 0.18, 0.12, NA, NA, NA],
    [NA, NA, NA, 0.7, 0.72, 0.62, 0.63, 0.63, 0.7, 0.75, 0.75, 0.75, 0.78, 0.8],
    [NA, NA, NA, 0.35, 0.42, 0.35, 0.28, 0.27, 0.28, 0.35, 0.38, 0.4, 0.37, 0.36],
    [NA, NA, NA, NA, NA, NA, NA, NA, 0.014, 0.025, 0.05, 0.085, 0.13, 0.23],
    [NA, NA, NA, NA, NA, NA, NA, NA, 0.12, 0.17, 0.25, 0.38, 0.55, 0.8],
    [0.55, 0.5, 0.42, 0.35, 0.25, 0.18, 0.1, NA, NA, NA, NA, NA, NA, NA],
    [1.1, 0.75, 0.6, 0.52, 0.45, 0.38, 0.33, 0.3, 0.28, 0.35, 0.4, 0.42, 0.4, 0.4],
    [0.6, 0.45, 0.38, 0.33, 0.3, 0.36, 0.3, 0.3, 0.33, 0.36, 0.4, 0.38, 0.35, 0.33],
]

# ───────────────────────── h: subducted harzburgite ─────────────────────────
h_ubn = [1.45, 1.35, 1.25, 1.35, 1.5, 1.45, 1.65, 1.65, 1.85, 1.8, 1.8, 1.85, 1.85, 1.95]
h_black = [
    [33.0, 30.0, 28.0, 27.0, 23.0, 20.0, 15.0, 16.0, 15.0, 14.0, 13.0, 14.0, 13.0, 13.0],
    [17.0, 17.0, 16.0, 17.0, 17.0, 19.0, 14.0, 16.0, 16.0, 15.0, 14.0, 16.0, 13.0, 14.0],
    [4.5, 8.0, 10.0, 11.0, 12.0, 12.0, 12.5, 12.0, 12.5, 12.5, 12.0, 12.0, 13.0, 13.5],
    [3.2, 2.8, 4.0, 2.8, 1.8, 7.0, 1.2, 1.4, 1.5, 1.7, 1.8, 2.0, 2.0, 2.1],
    [12.0, 3.0, 6.5, 7.0, 7.0, 2.7, 3.8, 3.0, 2.7, 2.8, 2.8, 2.5, 2.2, 2.3],
    [0.025, 0.013, 8.5, 6.0, 3.2, 2.2, 3.8, 3.0, 2.7, 2.8, 2.8, 2.5, 2.2, 2.3],
    [0.003, 0.009, NA, NA, NA, NA, NA, NA, NA, NA, NA, NA, NA, NA],
    [17.0, 0.07, 0.12, 0.2, 0.35, 0.4, 0.5, 0.55, 0.6, 0.65, 0.7, 0.75, 0.8, 0.85],
    [4.0, 3.5, 3.0, 2.5, 2.0, 1.8, 5.5, 6.0, 5.8, 5.8, 5.6, 5.0, 5.8, 6.0],
    [1.2, 1.1, 1.0, 1.0, 1.1, 1.2, 1.2, 1.2, 1.3, 1.3, 1.4, 1.4, 1.5, 1.6],
    [1.0, 0.9, 0.85, 0.8, 0.9, 1.0, 1.1, 1.1, 1.2, 1.2, 1.3, 1.3, 1.4, 1.5],
    [0.8, 0.7, 0.6, 0.6, 0.7, 0.8, 0.9, 1.0, 1.0, 1.1, 1.1, 1.2, 1.2, 1.3],
    [0.6, 0.5, 0.45, 0.5, 0.6, 0.7, 0.8, 0.85, 0.9, 0.9, 1.0, 1.0, 1.1, 1.2],
    [0.5, 0.4, 0.35, 0.38, 0.45, 0.6, 0.6, 0.7, 0.75, 0.8, 0.85, 0.9, 0.95, 1.0],
    [0.4, 0.3, 0.3, 0.35, 0.4, 0.5, 0.5, 0.55, 0.6, 0.65, 0.7, 0.75, 0.8, 0.85],
    [0.3, 0.25, 0.22, 0.25, 0.3, 0.4, 0.45, 0.5, 0.55, 0.6, 0.65, 0.7, 0.75, 0.8],
    [0.25, 0.2, 0.15, 0.18, 0.25, 0.35, 0.35, 0.4, 0.45, 0.5, 0.55, 0.6, 0.65, 0.7],
    [0.22, 0.15, 0.12, 0.12, 0.18, 0.25, 0.3, 0.35, 0.4, 0.45, 0.5, 0.55, 0.6, 0.65],
    [0.2, 0.12, 0.09, 0.1, 0.15, 0.2, 0.25, 0.3, 0.35, 0.4, 0.45, 0.5, 0.55, 0.6],
    [0.15, 0.1, 0.07, 0.08, 0.12, 0.18, 0.2, 0.25, 0.3, 0.35, 0.4, 0.45, 0.5, 0.55],
    [0.12, 0.08, 0.06, 0.06, 0.09, 0.15, 0.15, 0.2, 0.25, 0.3, 0.35, 0.4, 0.45, 0.5],
    [0.1, 0.07, 0.05, 0.05, 0.07, 0.12, 0.12, 0.15, 0.2, 0.25, 0.3, 0.35, 0.4, 0.45],
    [0.08, 0.06, 0.045, 0.04, 0.06, 0.1, 0.1, 0.12, 0.16, 0.2, 0.25, 0.3, 0.35, 0.4],
    [0.06, 0.05, 0.04, 0.035, 0.05, 0.08, 0.08, 0.1, 0.13, 0.16, 0.2, 0.25, 0.3, 0.35],
    [0.05, 0.04, 0.035, 0.03, 0.04, 0.07, 0.05, 0.06, 0.08, 0.1, 0.13, 0.16, 0.2, 0.25],
    [0.04, 0.035, 0.03, 0.025, 0.03, 0.06, 0.04, 0.045, 0.06, 0.08, 0.1, 0.13, 0.17, 0.22],
    [0.035, 0.03, 0.025, 0.02, 0.02, 0.05, 0.03, 0.035, 0.045, 0.06, 0.08, 0.11, 0.15, 0.2],
    [0.02, 0.015, 0.013, 0.015, 0.018, 0.025, 0.025, 0.025, 0.03, 0.04, 0.06, 0.08, 0.12, 0.18],
    [NA, NA, NA, NA, NA, NA, 0.01, 0.011, 0.015, 0.025, 0.04, 0.06, 0.1, 0.16],
    [NA, NA, NA, NA, NA, NA, NA, 0.0055, 0.012, 0.02, 0.035, 0.05, 0.08, 0.1],
    [NA, NA, NA, NA, NA, NA, NA, NA, 0.028, 0.04, 0.055, 0.07, 0.09, 0.15],
    [0.7, 0.6, 0.8, 1.2, 1.5, 2.5, 1.5, 1.4, 1.3, 1.2, 1.1, 1.1, 1.0, 1.0],
    [2.5, 2.2, 2.0, 1.8, 1.5, 1.3, 1.0, 1.0, 0.9, 0.85, 0.9, 0.9, 0.95, 1.0],
    [3.5, 3.0, 2.8, 2.5, 1.8, 1.3, 0.9, 0.8, 0.7, 0.7, 0.75, 0.8, 0.85, 0.9],
    [0.3, 0.5, 0.7, 0.5, 0.4, 0.3, 0.2, 0.2, 0.25, 0.3, 0.35, 0.4, 0.45, 0.5],
    [0.06, 0.2, 0.3, 0.25, 0.2, 0.15, 0.1, 0.12, 0.15, 0.18, 0.2, 0.25, 0.3, 0.4],
    [0.9, 1.0, 1.1, 1.3, 1.4, 1.2, 1.3, 1.0, 0.9, 0.9, 0.95, 1.0, 1.0, 1.1],
    [0.5, 0.6, 0.5, 0.45, 0.4, 0.35, 0.3, 0.28, 0.3, 0.35, 0.4, 0.45, 0.5, 0.6],
    [0.25, 0.3, 0.35, 0.5, 0.7, 0.9, 0.8, 0.7, 0.65, 0.6, 0.65, 0.7, 0.7, 0.75],
    [0.04, 0.03, 0.025, 0.03, 0.04, 0.15, 0.04, 0.05, 0.07, 0.09, 0.12, 0.15, 0.2, 0.25],
    [0.15, 0.25, 0.1, 0.05, 0.08, 0.1, 0.06, 0.08, 0.1, 0.13, 0.17, 0.22, 0.28, 0.35],
    [0.7, 0.5, 0.35, 0.25, 0.2, 0.2, 0.25, 0.3, 0.4, 0.5, 0.6, 0.7, 0.8, 0.9],
    [1.5, 1.2, 1.0, 0.9, 0.8, 0.6, 0.5, 0.45, 0.5, 0.55, 0.6, 0.65, 0.7, 0.8],
    [0.45, 0.35, 0.25, 0.2, 0.15, 0.15, 0.12, 0.12, 0.13, 0.15, 0.18, 0.2, 0.25, 0.3],
    [0.028, 0.013, 0.02, 0.035, 0.045, 0.1, 0.05, 0.06, 0.08, 0.1, 0.13, 0.16, 0.2, 0.25],
    [0.018, 0.02, 0.016, 0.025, 0.018, 0.03, 0.025, 0.03, 0.04, 0.05, 0.07, 0.09, 0.12, 0.18],
    [1.1, 0.9, 0.7, 0.6, 0.5, 0.55, 0.6, 0.7, 0.8, 0.9, 1.0, 1.0, 1.1, 1.2],
    [0.9, 0.7, 0.55, 0.45, 0.4, 0.45, 0.5, 0.55, 0.65, 0.75, 0.8, 0.9, 0.95, 1.0],
    [0.7, 0.55, 0.4, 0.35, 0.3, 0.35, 0.4, 0.45, 0.55, 0.6, 0.7, 0.75, 0.8, 0.9],
    [0.55, 0.45, 0.35, 0.3, 0.35, 0.45, 0.45, 0.5, 0.6, 0.65, 0.7, 0.8, 0.85, 0.95],
    [0.35, 0.3, 0.25, 0.2, 0.25, 0.35, 0.3, 0.35, 0.45, 0.5, 0.6, 0.65, 0.7, 0.8],
    [0.28, 0.18, 0.1, 0.08, 0.1, 0.2, 0.18, 0.22, 0.3, 0.35, 0.4, 0.5, 0.55, 0.65],
    [0.18, 0.1, 0.06, 0.045, 0.06, 0.1, 0.09, 0.12, 0.16, 0.22, 0.28, 0.35, 0.42, 0.5],
    [0.12, 0.06, 0.04, 0.035, 0.045, 0.08, 0.07, 0.09, 0.12, 0.15, 0.2, 0.26, 0.32, 0.4],
    [0.09, 0.05, 0.035, 0.03, 0.04, 0.06, 0.05, 0.06, 0.08, 0.11, 0.15, 0.2, 0.25, 0.3],
    [0.07, 0.045, 0.035, 0.033, 0.035, 0.05, 0.03, 0.035, 0.05, 0.07, 0.1, 0.13, 0.18, 0.22],
    [0.05, 0.035, 0.03, 0.025, 0.025, 0.04, 0.025, 0.028, 0.04, 0.055, 0.08, 0.11, 0.15, 0.19],
    [0.045, 0.04, 0.04, 0.04, 0.045, 0.08, 0.06, 0.07, 0.09, 0.12, 0.16, 0.2, 0.25, 0.3],
    [0.25, 0.2, 0.18, 0.2, 0.3, 0.5, 0.45, 0.5, 0.6, 0.7, 0.8, 0.9, 1.0, 1.1],
    [0.22, 0.18, 0.13, 0.12, 0.15, 0.22, 0.2, 0.25, 0.3, 0.35, 0.4, 0.45, 0.55, 0.6],
    [0.6, 0.4, 0.25, 0.18, 0.15, 0.2, 0.18, 0.2, 0.25, 0.3, 0.35, 0.4, 0.45, 0.55],
    [0.4, 0.2, 0.12, 0.09, 0.08, 0.1, 0.1, 0.12, 0.15, 0.2, 0.25, 0.3, 0.35, 0.45],
    [1.3, 1.1, 0.9, 0.8, 0.7, 0.9, 0.9, 0.9, 1.0, 1.0, 1.1, 1.2, 1.2, 1.3],
    [0.8, 0.8, 0.75, 0.75, 0.8, 0.9, 0.85, 0.85, 0.9, 0.95, 1.0, 1.0, 1.05, 1.1],
    [0.5, 0.45, 0.4, 0.4, 0.45, 0.55, 0.55, 0.6, 0.65, 0.7, 0.75, 0.8, 0.85, 0.9],
    [0.15, 0.12, 0.1, 0.1, 0.12, 0.2, 0.18, 0.2, 0.25, 0.3, 0.35, 0.4, 0.45, 0.5],
    [0.1, 0.08, 0.07, 0.07, 0.09, 0.14, 0.1, 0.12, 0.15, 0.2, 0.25, 0.3, 0.35, 0.4],
    [0.035, 0.03, 0.03, 0.03, 0.035, 0.06, 0.035, 0.04, 0.06, 0.08, 0.1, 0.13, 0.17, 0.2],
    [NA, NA, NA, NA, 0.018, 0.045, 0.025, 0.03, 0.04, 0.05, 0.07, 0.1, 0.13, 0.17],
    [NA, NA, NA, 0.017, 0.02, 0.06, 0.022, 0.02, 0.03, 0.04, 0.055, 0.075, 0.1, 0.15],
    [2.0, 1.8, 1.5, 1.3, 1.2, 1.0, 1.1, 1.1, 1.2, 1.3, 1.3, 1.4, 1.5, 1.6],
]

# ───────────────────────── i: subducted lherzolite ─────────────────────────
i_black = [
    [58.0, 43.0, 37.0, 31.0, 25.0, 24.0, 19.0, 18.0, 16.0, 15.0, 14.0, 13.0, 12.0, 13.0],
    [26.0, 21.0, 19.0, 17.0, 14.0, 14.0, 11.0, 10.0, 9.5, 9.0, 8.5, 7.3, 7.5, 7.7],
    [8.0, 11.0, 13.0, 15.0, 16.0, 16.0, 16.0, 17.0, 16.0, 14.0, 13.0, 12.0, 11.0, 11.0],
    [5.5, 5.3, 4.5, 3.7, 2.5, 2.0, 1.65, 1.6, 1.5, 1.45, 1.5, 1.5, 1.55, 2.0],
    [0.85, 1.1, 1.6, 2.3, 3.5, 2.5, 4.2, 4.3, 4.2, 4.0, 3.6, 3.2, 2.7, 2.8],
    [1.35, 1.35, 1.4, 1.45, 1.45, 1.45, 1.5, 1.5, 1.5, 1.5, 1.5, 1.55, 1.6, 2.0],
    [0.95, 0.95, 0.9, 0.85, 0.95, 1.0, 1.2, 1.4, 1.5, 1.6, 1.6, 1.7, 1.7, 2.0],
    [0.6, 0.65, 0.75, 0.85, 0.9, 1.0, 1.15, 1.3, 1.4, 1.5, 1.5, 1.55, 1.55, NA],
    [0.21, 0.14, 0.11, 0.085, 0.068, NA, NA, NA, NA, NA, NA, NA, NA, NA],
    [NA, 0.13, 0.2, 0.3, 0.6, 1.35, 0.6, 0.47, 0.48, 0.38, 0.42, 0.47, 0.5, 0.53],
    [NA, 0.095, 0.16, 0.24, 0.45, 0.6, 0.8, 1.0, 1.15, 1.25, 1.3, 1.35, 1.35, NA],
    [NA, NA, NA, 0.5, 0.8, 1.05, 1.3, 1.5, 1.6, 1.7, 1.75, 1.75, 1.75, NA],
    [NA, NA, NA, 0.47, 0.76, 1.0, 1.25, 1.45, 1.55, 1.65, 1.7, 1.7, 1.7, NA],
    [NA, NA, NA, 0.45, 0.73, 0.96, 1.2, 1.4, 1.5, 1.6, 1.65, 1.65, 1.65, NA],
    [NA, NA, NA, 0.25, 0.5, 0.7, 0.9, 1.05, 1.2, 1.3, 1.4, 1.45, 1.5, NA],
    [NA, NA, NA, 0.23, 0.48, 0.66, 0.86, 1.0, 1.15, 1.25, 1.35, 1.4, 1.45, NA],
    [NA, NA, NA, 0.21, 0.46, 0.63, 0.82, 0.96, 1.1, 1.2, 1.3, 1.35, 1.4, NA],
    [NA, NA, NA, 0.2, 0.44, 0.6, 0.79, 0.92, 1.05, 1.15, 1.25, 1.3, 1.35, NA],
    [NA, NA, NA, 0.18, 0.42, 0.57, 0.76, 0.88, 1.0, 1.1, 1.2, 1.25, 1.3, NA],
    [NA, NA, NA, 0.17, 0.4, 0.55, 0.73, 0.85, 0.96, 1.05, 1.12, 1.18, 1.22, NA],
]

panel_counts = {'a': 26, 'b': 87, 'c': 6, 'd': 94, 'e': 96, 'f': 20, 'g': 18, 'h': 130, 'i': 20}

# ───────────────────────── colours ─────────────────────────
BAND = '#F0D29A'
RED = '#C9472B'
BLUE = '#4468C6'
GREEN = '#2F7A2F'
PURPLE = '#7A1C4C'
GRID = '#A0A0A0'

W, H = 1386, 1050
fig = plt.figure(figsize=(W / 100, H / 100), dpi=100)


def px_box(left, top, right, bottom):
    return [left / W, 1 - bottom / H, (right - left) / W, (bottom - top) / H]


col_x = [(85, 462), (539, 918), (997, 1375)]
row_y = [(59, 340), (401, 682), (743, 1024)]


def setup(ax, ylabel):
    ax.set_yscale('log')
    ax.set_ylim(1e-3, 100)
    ax.set_xlim(-0.5, 14.5)
    ax.set_yticks([1e-3, 1e-2, 0.1, 1, 10, 100])
    ax.set_yticklabels(['0.001', '0.01', '0.1', '1', '10', '100'])
    ax.yaxis.set_minor_locator(NullLocator())
    ax.set_xticks(np.arange(-0.5, 15, 1))
    ax.set_xticklabels([])
    ax.set_xticks(ree_x, minor=True)
    ax.set_xticklabels(ree, minor=True)
    ax.tick_params(axis='x', which='minor', length=0, pad=7, labelsize=11.5)
    ax.tick_params(axis='x', which='major', length=5, width=1, color='#333333')
    ax.tick_params(axis='y', which='major', length=5, width=1, color='#333333',
                   labelsize=12.5, pad=1)
    for y in [0.01, 0.1, 1, 10]:
        ax.axhline(y, color=GRID, lw=0.8, zorder=0)
    for side in ['top', 'right']:
        ax.spines[side].set_color('#777777')
        ax.spines[side].set_linewidth(1.0)
    for side in ['left', 'bottom']:
        ax.spines[side].set_color('#222222')
        ax.spines[side].set_linewidth(1.2)
    if ylabel:
        ax.set_ylabel('Bulk rock/CI-Chondrite', fontsize=15, labelpad=4)


def draw(ax, rows, **kw):
    for r in rows:
        ax.plot(ree_x, r, **kw)


def band(ax, top, bot):
    ax.fill_between(ree_x, bot, top, color=BAND, lw=0, zorder=1)
    ax.plot(ree_x, top, color=RED, lw=0.9, zorder=4)
    ax.plot(ree_x, bot, color=RED, lw=0.9, zorder=4)


def melt_label(ax, x, y):
    ax.text(x, y, 'Melt/Rock\ninteractions', color=RED, fontsize=8.5, style='italic',
            ha='center', va='center', linespacing=1.1, zorder=6)


def talc_key(ax):
    ax.plot([0.3, 1.37], [78, 61], color=BLUE, lw=1.5, ls=(0, (4, 2)), zorder=6)
    ax.text(-0.26, 44, 'Talc alteration', color=BLUE, fontsize=8, style='italic',
            ha='left', va='center', zorder=6)


black_kw = dict(color='black', lw=0.75, zorder=2)
red_kw = dict(color=RED, lw=0.8, zorder=3)
blue_kw = dict(color=BLUE, lw=1.6, ls=(0, (3.5, 2)), zorder=5)

axes = {}
letters = [['a', 'b', 'c'], ['d', 'e', 'f'], ['g', 'h', 'i']]
rock = {'a': 'Dunite', 'b': 'Harzburgite', 'c': 'Troctolite',
        'd': 'Dunite', 'e': 'Harzburgite', 'f': 'Lherzolite',
        'g': 'Dunite', 'h': 'Harzburgite', 'i': 'Lherzolite'}
rock_x = [0.947, 0.955, 0.942]
for ci, (x0, x1) in enumerate(col_x):
    for ri, (y0, y1) in enumerate(row_y):
        key = letters[ci][ri]
        ax = fig.add_axes(px_box(x0, y0, x1, y1))
        setup(ax, ci == 0)
        ax.text(rock_x[ci], 0.897, rock[key], transform=ax.transAxes, fontsize=16,
                style='italic', ha='right', va='center')
        axes[key] = ax

# n labels
n_pos = {'a': (0.027, 0.047), 'b': (0.637, 0.047), 'c': (0.027, 0.043),
         'd': (0.032, 0.047), 'e': (0.697, 0.043), 'f': (0.032, 0.043),
         'g': (0.027, 0.047), 'h': (0.027, 0.047), 'i': (0.027, 0.043)}
for key, (nx, ny) in n_pos.items():
    axes[key].text(nx, ny, f'n = {panel_counts[key]}', transform=axes[key].transAxes,
                   fontsize=10, style='italic', ha='left', va='center', zorder=8)

# ───────────────────────── abyssal column ─────────────────────────
ax = axes['a']
band(ax, a_band_top, a_band_bot)
draw(ax, a_black, **black_kw)
draw(ax, a_red, **red_kw)
draw(ax, a_blue, **blue_kw)
melt_label(ax, 10.96, 1.15)
talc_key(ax)

ax = axes['b']
band(ax, b_band_top, b_band_bot)
draw(ax, b_black, **black_kw)
draw(ax, b_red, **red_kw)
draw(ax, b_blue, **blue_kw)
melt_label(ax, 8.57, 3.9)
talc_key(ax)

draw(axes['c'], c_black, **black_kw)

# ───────────────────────── mantle wedge column ─────────────────────────
ax = axes['d']
band(ax, d_band_top, d_band_bot)
draw(ax, d_black, **black_kw)
draw(ax, d_red, **red_kw)
melt_label(ax, 10.93, 0.68)

ax = axes['e']
band(ax, e_band_top, e_band_bot)
draw(ax, e_black, **black_kw)
draw(ax, e_muds, color=GREEN, lw=1.0, ls=(0, (1, 1.5)), zorder=3)
melt_label(ax, 9.3, 0.54)
ax.annotate('', xy=(2.71, 11.9), xytext=(1.6, 0.285),
            arrowprops=dict(arrowstyle='<|-|>,head_length=0.5,head_width=0.2',
                            color='#3B6B3B', lw=1.0, shrinkA=0, shrinkB=0), zorder=6)
ax.text(2.4, 2.5, 'Serp. muds', color='#3B6B3B', fontsize=8.5, style='italic',
        ha='center', va='center', zorder=7,
        bbox=dict(facecolor='white', edgecolor='none', pad=0.5))

draw(axes['f'], f_black, **black_kw)

# ───────────────────────── subducted column ─────────────────────────
draw(axes['g'], g_black, **black_kw)

ax = axes['h']
draw(ax, h_black, **black_kw)
ax.plot(ree_x, h_ubn, color=PURPLE, lw=2.2, marker='o', ms=6, zorder=6)
ax.text(13.98, 3.2, 'UB-N', color=PURPLE, fontsize=9, style='italic',
        ha='right', va='center', zorder=7)

draw(axes['i'], i_black, **black_kw)

# ───────────────────────── panel letters & column headers ─────────────────────────
letter_px = {'a': (30, 43), 'b': (30, 385), 'c': (32, 727),
             'd': (487, 42), 'e': (487, 385), 'f': (490, 725),
             'g': (943, 43), 'h': (942, 385), 'i': (948, 727)}
for key, (lx, ly) in letter_px.items():
    fig.text(lx / W, 1 - ly / H, key, fontsize=21, ha='center', va='center')

headers = [('Abyssal Serpentinites', 135, (138, 11), (118, 45)),
           ('Mantle Wedge Serpentinites', 552, (558, 10), (538, 45)),
           ('Subducted Serpentinites', 1028, (1034, 10), (1014, 45))]
for text, tx, (ax0, ay0), (ax1, ay1) in headers:
    fig.text(tx / W, 1 - 27 / H, text, fontsize=19, fontweight='bold',
             ha='left', va='center')
    arr = FancyArrowPatch((ax0 / W, 1 - ay0 / H), (ax1 / W, 1 - ay1 / H),
                          transform=fig.transFigure,
                          connectionstyle='angle3,angleA=180,angleB=90',
                          arrowstyle='-|>,head_length=0.8,head_width=0.4',
                          mutation_scale=14, color='black', lw=1.4,
                          shrinkA=0, shrinkB=0)
    fig.add_artist(arr)

fig.savefig('out.png', dpi=100)
